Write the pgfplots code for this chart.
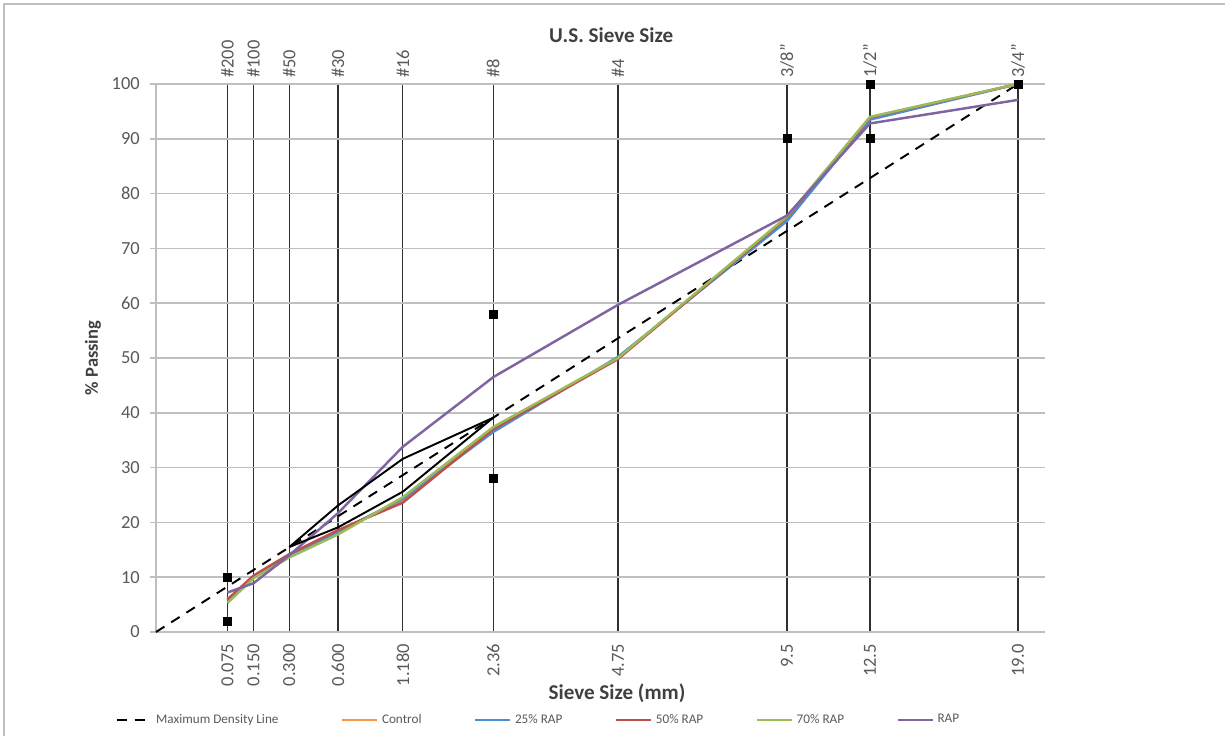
\documentclass[border=0pt]{standalone}
\usepackage{fontspec}
\setmainfont{Carlito}
\usepackage{pgfplots}
\pgfplotsset{compat=1.18}
\definecolor{ctrl}{HTML}{F79646}
\definecolor{rap25}{HTML}{4A8FD6}
\definecolor{rap50}{HTML}{C0504D}
\definecolor{rap70}{HTML}{9BBB59}
\definecolor{rapc}{HTML}{8064A2}
\definecolor{tickcol}{HTML}{595959}
\definecolor{labcol}{HTML}{404040}
\definecolor{gridcol}{HTML}{BFBFBF}
\definecolor{sievecol}{HTML}{303030}
\begin{document}
\begin{tikzpicture}
\useasboundingbox (0,0) rectangle (245mm,147.2mm);
\draw[gridcol, line width=0.4mm] (0.7mm,0) -- (0.7mm,146.4mm) -- (245mm,146.4mm);
\begin{axis}[
  at={(31.2mm,20.8mm)}, anchor=south west,
  scale only axis, width=177.8mm, height=109.6mm,
  xmin=0, xmax=3.88, ymin=0, ymax=100,
  clip=false,
  axis x line*=bottom, axis y line*=left,
  x axis line style={draw=none},
  y axis line style={gridcol, line width=0.9pt},
  xtick={0.3117,0.4258,0.5817,0.7946,1.0773,1.4717,2.0161,2.7541,3.1160,3.7622},
  xticklabels={0.075,0.150,0.300,0.600,1.180,2.36,4.75,9.5,12.5,19.0},
  xtick style={draw=none},
  xmajorgrids, major x grid style={sievecol, line width=0.7pt},
  ytick={0,10,...,100},
  ymajorgrids, major y grid style={gridcol, line width=0.9pt},
  ytick style={gridcol, line width=0.9pt},
  tick align=outside, major tick length=1.2mm,
  /pgf/number format/assume math mode=true,
  xticklabel style={rotate=90, anchor=east, font=\fontsize{10.5}{12}\selectfont, text=tickcol},
  yticklabel style={font=\fontsize{10.5}{12}\selectfont, text=tickcol, xshift=-0.8mm},
  legend style={at={(axis description cs:-0.0516,-0.1606)}, anchor=west, draw=none, fill=none,
    font=\fontsize{7.5}{9}\selectfont, text=tickcol,
    /tikz/every even column/.append style={column sep=9.8mm}},
  legend columns=6, legend cell align=left,
  legend image code/.code={\draw[#1] (0mm,0mm) -- (7mm,0mm);},
]
\addplot[black, line width=1.1pt, dash pattern=on 2mm off 1.6mm] coordinates {(0,0) (3.7622,100)};
\addlegendentry{Maximum Density Line\rule{2mm}{0pt}}
\addplot[ctrl, line width=1.4pt] coordinates {
(0.3117,6.0) (0.4258,10.2) (0.5817,14.0) (0.7946,18.5) (1.0773,24.0) (1.4717,37.0) (2.0161,50.0) (2.7541,75.5) (3.1160,93.8) (3.7622,100)};
\addlegendentry{Control}
\addplot[rap25, line width=1.4pt] coordinates {
(0.3117,5.8) (0.4258,10.0) (0.5817,13.8) (0.7946,18.3) (1.0773,24.3) (1.4717,36.5) (2.0161,50.2) (2.7541,75.0) (3.1160,93.5) (3.7622,100)};
\addlegendentry{25\% RAP}
\addplot[rap50, line width=1.4pt] coordinates {
(0.3117,5.9) (0.4258,10.3) (0.5817,14.2) (0.7946,18.6) (1.0773,23.6) (1.4717,37.0) (2.0161,49.8) (2.7541,75.6) (3.1160,93.9) (3.7622,100)};
\addlegendentry{50\% RAP}
\addplot[rap70, line width=1.4pt] coordinates {
(0.3117,5.3) (0.4258,9.8) (0.5817,13.6) (0.7946,17.8) (1.0773,24.6) (1.4717,37.4) (2.0161,50.0) (2.7541,75.8) (3.1160,94.0) (3.7622,100)};
\addlegendentry{70\% RAP}
\addplot[rapc, line width=1.4pt] coordinates {
(0.3117,7.2) (0.4258,8.9) (0.5817,14.0) (0.7946,21.7) (1.0773,33.8) (1.4717,46.5) (2.0161,59.7) (2.7541,76.0) (3.1160,92.8) (3.7622,97.1)};
\addlegendentry{RAP}
\addplot[black, line width=1.1pt, forget plot] coordinates {
(0.5817,15.5) (0.7946,23.1) (1.0773,31.6) (1.4717,39.1) (1.0773,25.6) (0.7946,19.1) (0.5817,15.5)};
\addplot[only marks, mark=square*, mark size=0.8mm, black, forget plot] coordinates {
(0.3117,2) (0.3117,10) (1.4717,28) (1.4717,58) (2.7541,90) (3.1160,90) (3.1160,100) (3.7622,100)};
\node[font=\bfseries\fontsize{12}{14}\selectfont, text=labcol] at (axis description cs:0.512,1.0894) {U.S. Sieve Size};
\node[font=\bfseries\fontsize{12}{14}\selectfont, text=labcol] at (axis description cs:0.5186,-0.111) {Sieve Size (mm)};
\node[font=\bfseries\fontsize{10.5}{12}\selectfont, text=labcol, rotate=90] at (axis description cs:-0.0709,0.5) {\% Passing};
\end{axis}
\begin{axis}[
  at={(31.2mm,20.8mm)}, anchor=south west,
  scale only axis, width=177.8mm, height=109.6mm,
  xmin=0, xmax=3.88, ymin=0, ymax=100,
  axis x line*=top, axis y line=none,
  axis line style={draw=none},
  xtick={0.3117,0.4258,0.5817,0.7946,1.0773,1.4717,2.0161,2.7541,3.1160,3.7622},
  xticklabels={\#200,\#100,\#50,\#30,\#16,\#8,\#4,3/8",1/2",3/4"},
  xtick style={draw=none},
  xticklabel style={rotate=90, anchor=west, font=\fontsize{10.5}{12}\selectfont, text=tickcol},
]
\addplot[draw=none] coordinates {(0,0)};
\end{axis}
\end{tikzpicture}
\end{document}
